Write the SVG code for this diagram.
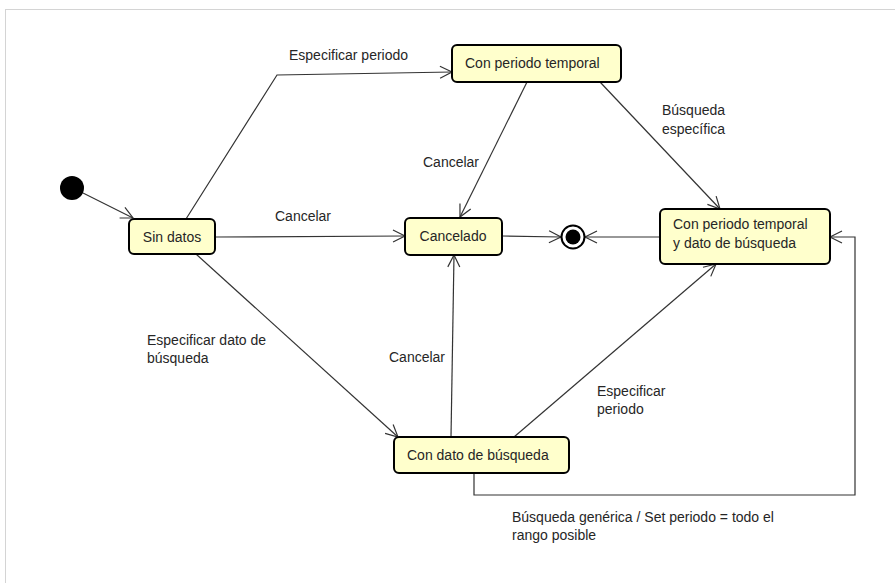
<svg xmlns="http://www.w3.org/2000/svg" width="895" height="583" viewBox="0 0 895 583">
  <style>
    .frame { fill: #ffffff; stroke: #d4d4d4; stroke-width: 1; }
    .state { fill: #ffffcc; stroke: #000000; stroke-width: 2; }
    .label { font-family: "Liberation Sans", Arial, sans-serif; font-size: 14px; fill: #262626; }
    .edge { fill: none; stroke: #333333; stroke-width: 1.2; marker-end: url(#open); }
  </style>
  <defs>
    <marker id="open" markerUnits="userSpaceOnUse" markerWidth="14" markerHeight="14" refX="12" refY="6" orient="auto" overflow="visible">
      <path d="M0,0 L12,6 L0,12" fill="none" stroke="#333333" stroke-width="1.2"/>
    </marker>
  </defs>

  <rect class="frame" x="5.5" y="9.5" width="900" height="600"/>

  <g id="connectors">
    <line class="edge" x1="83" y1="193" x2="133" y2="218"/>
    <polyline class="edge" points="186,219 277,75 452,72"/>
    <line class="edge" x1="527" y1="82" x2="460" y2="217"/>
    <line class="edge" x1="600" y1="82" x2="720" y2="209"/>
    <line class="edge" x1="216" y1="237" x2="405" y2="236"/>
    <line class="edge" x1="502" y1="236" x2="561" y2="237"/>
    <line class="edge" x1="660" y1="237" x2="585" y2="237"/>
    <line class="edge" x1="196" y1="254" x2="398" y2="437"/>
    <line class="edge" x1="451" y1="437" x2="454" y2="255"/>
    <line class="edge" x1="514" y1="437" x2="716" y2="264"/>
    <polyline class="edge" points="474,473 474,495 855,495 855,237 830,237"/>

    <text class="label" x="289" y="60">Especificar periodo</text>
    <text class="label" x="423" y="167">Cancelar</text>
    <text class="label" x="662" y="115">Búsqueda</text>
    <text class="label" x="662" y="134">específica</text>
    <text class="label" x="275" y="221">Cancelar</text>
    <text class="label" x="147" y="345">Especificar dato de</text>
    <text class="label" x="147" y="363">búsqueda</text>
    <text class="label" x="389" y="362">Cancelar</text>
    <text class="label" x="597" y="396">Especificar</text>
    <text class="label" x="597" y="414">periodo</text>
    <text class="label" x="512" y="522">Búsqueda genérica / Set periodo = todo el</text>
    <text class="label" x="512" y="540">rango posible</text>
  </g>

  <g id="initial">
    <circle cx="72" cy="188" r="12" fill="#000000"/>
  </g>

  <g id="sin-datos">
    <rect class="state" x="129" y="219" width="86" height="35" rx="5"/>
    <text class="label" x="172" y="242" text-anchor="middle">Sin datos</text>
  </g>

  <g id="con-periodo">
    <rect class="state" x="452" y="45" width="169" height="37" rx="5"/>
    <text class="label" x="465" y="68">Con periodo temporal</text>
  </g>

  <g id="cancelado">
    <rect class="state" x="405" y="218" width="97" height="37" rx="5"/>
    <text class="label" x="453" y="241" text-anchor="middle">Cancelado</text>
  </g>

  <g id="final">
    <circle cx="573" cy="237" r="11.5" fill="#ffffff" stroke="#000000" stroke-width="2"/>
    <circle cx="573" cy="237" r="7.5" fill="#000000"/>
  </g>

  <g id="con-periodo-y-dato">
    <rect class="state" x="660" y="209" width="170" height="55" rx="5"/>
    <text class="label" x="673" y="229">Con periodo temporal</text>
    <text class="label" x="673" y="248">y dato de búsqueda</text>
  </g>

  <g id="con-dato">
    <rect class="state" x="394" y="437" width="175" height="36" rx="5"/>
    <text class="label" x="407" y="460">Con dato de búsqueda</text>
  </g>
</svg>
